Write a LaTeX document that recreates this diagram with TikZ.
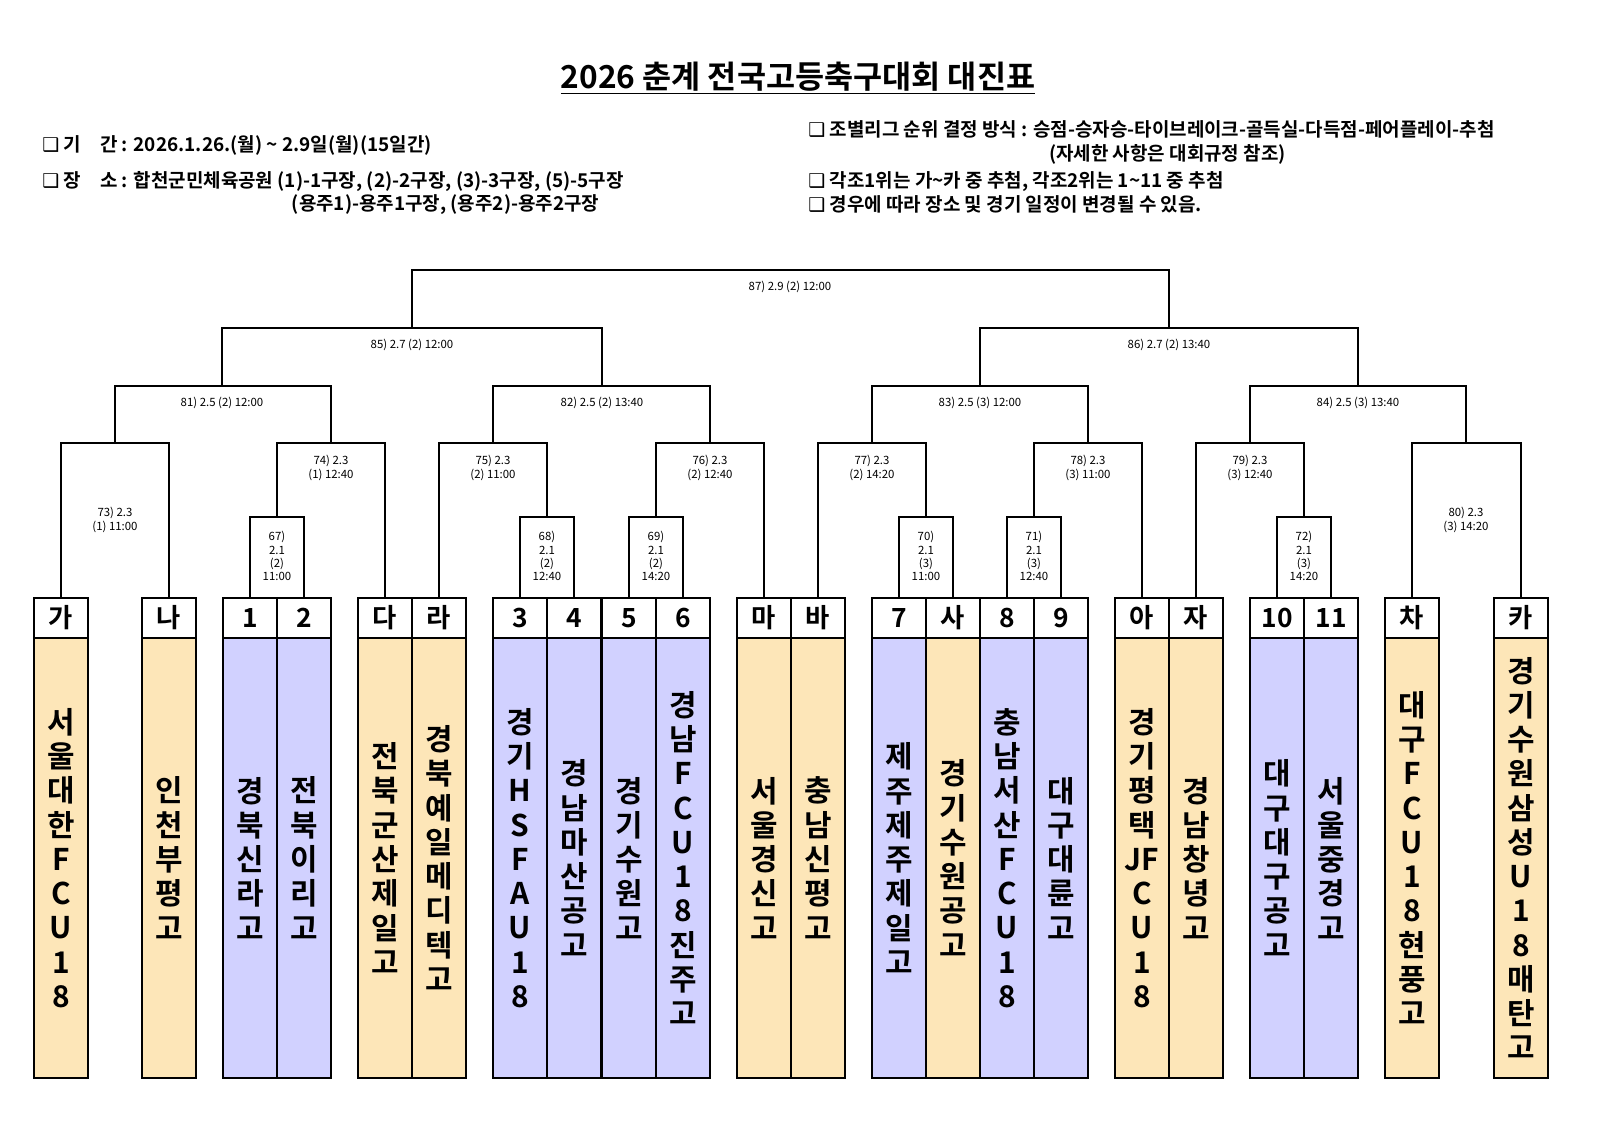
\documentclass[tikz,border=0pt]{standalone}
\usepackage{fontspec}
\setmainfont{Noto Sans CJK KR}[BoldFont=* Bold]
\newfontfamily\symb{DejaVu Sans}
\begin{document}
\begin{tikzpicture}[x=0.02cm,y=-0.02cm]
% Styles
\tikzstyle{cadre}=[line width=0.7pt]
\tikzstyle{tete}=[draw,line width=0.7pt,minimum width=1.08cm,minimum height=0.8cm,inner sep=0pt,font=\fontsize{15}{15}\selectfont\bfseries]
\tikzstyle{corps}=[draw,line width=0.7pt,minimum width=1.08cm,minimum height=8.8cm,inner sep=0pt]
\tikzstyle{nom}=[align=center,font=\fontsize{17}{19.5}\selectfont\bfseries]
\tikzstyle{info}=[font=\fontsize{10.8}{13.6}\selectfont\bfseries,anchor=west,align=left,inner sep=0pt]
\tikzstyle{match}=[font=\fontsize{6.5}{7.5}\selectfont,align=center,inner sep=1pt]
\colorlet{jaune}{yellow!30!orange!25!white}
\colorlet{violet}{blue!18!white}
% Dimensions
\def\Htete{618}
\def\Hcorps{858}
\useasboundingbox (0,0) rectangle (1614,1140);
% Titre
\node[font=\fontsize{18}{20}\selectfont\bfseries] (titre) at (798,78) {\underline{2026 춘계 전국고등축구대회 대진표}};
\node[info] (i1) at (42,145) {{\symb ❑} 기\quad 간 : 2026.1.26.(월) \textasciitilde\ 2.9일(월)(15일간)};
\node[info] (i2) at (42,193) {{\symb ❑} 장\quad 소 : 합천군민체육공원 (1)-1구장, (2)-2구장, (3)-3구장, (5)-5구장\\\hspace{142pt}(용주1)-용주1구장, (용주2)-용주2구장};
\node[info] (i3) at (808,142) {{\symb ❑} 조별리그 순위 결정 방식 : 승점-승자승-타이브레이크-골득실-다득점-페어플레이-추첨\\\hspace{137pt}(자세한 사항은 대회규정 참조)};
\node[info] (i4) at (808,192) {{\symb ❑} 각조1위는 가\textasciitilde 카 중 추첨, 각조2위는 1\textasciitilde 11 중 추첨\\{\symb ❑} 경우에 따라 장소 및 경기 일정이 변경될 수 있음.};
% Equipes
\foreach \id/\x/\lab/\col/\txt in {
 t1/61/가/jaune/{서\\울\\대\\한\\F\\C\\U\\1\\8},
 t2/169/나/jaune/{인\\천\\부\\평\\고},
 t3/250/1/violet/{경\\북\\신\\라\\고},
 t4/304/2/violet/{전\\북\\이\\리\\고},
 t5/385/다/jaune/{전\\북\\군\\산\\제\\일\\고},
 t6/439/라/jaune/{경\\북\\예\\일\\메\\디\\텍\\고},
 t7/520/3/violet/{경\\기\\H\\S\\F\\A\\U\\1\\8},
 t8/574/4/violet/{경\\남\\마\\산\\공\\고},
 t9/629/5/violet/{경\\기\\수\\원\\고},
 t10/683/6/violet/{경\\남\\F\\C\\U\\1\\8\\진\\주\\고},
 t11/764/마/jaune/{서\\울\\경\\신\\고},
 t12/818/바/jaune/{충\\남\\신\\평\\고},
 t13/899/7/violet/{제\\주\\제\\주\\제\\일\\고},
 t14/953/사/jaune/{경\\기\\수\\원\\공\\고},
 t15/1007/8/violet/{충\\남\\서\\산\\F\\C\\U\\1\\8},
 t16/1061/9/violet/{대\\구\\대\\륜\\고},
 t17/1142/아/jaune/{경\\기\\평\\택\\JF\\C\\U\\1\\8},
 t18/1196/자/jaune/{경\\남\\창\\녕\\고},
 t19/1277/10/violet/{대\\구\\대\\구\\공\\고},
 t20/1331/11/violet/{서\\울\\중\\경\\고},
 t21/1412/차/jaune/{대\\구\\F\\C\\U\\1\\8\\현\\풍\\고},
 t22/1521/카/jaune/{경\\기\\수\\원\\삼\\성\\U\\1\\8\\매\\탄\\고}}{
 \node[tete] (\id) at (\x,\Htete) {\lab};
 \node[corps,fill=\col] (c\id) at (\x,\Hcorps) {};
 \node[nom] (n\id) at (\x,\Hcorps) {\txt};
}
% Premier tour
\coordinate (m67) at (277,517);
\coordinate (m68) at (547,517);
\coordinate (m69) at (656,517);
\coordinate (m70) at (926,517);
\coordinate (m71) at (1034,517);
\coordinate (m72) at (1304,517);
\draw[cadre] (t3.north) |- (m67) -| (t4.north);
\draw[cadre] (t7.north) |- (m68) -| (t8.north);
\draw[cadre] (t9.north) |- (m69) -| (t10.north);
\draw[cadre] (t13.north) |- (m70) -| (t14.north);
\draw[cadre] (t15.north) |- (m71) -| (t16.north);
\draw[cadre] (t19.north) |- (m72) -| (t20.north);
\node[match] (l67) at (277,556) {67)\\2.1\\(2)\\11:00};
\node[match] (l68) at (547,556) {68)\\2.1\\(2)\\12:40};
\node[match] (l69) at (656,556) {69)\\2.1\\(2)\\14:20};
\node[match] (l70) at (926,556) {70)\\2.1\\(3)\\11:00};
\node[match] (l71) at (1034,556) {71)\\2.1\\(3)\\12:40};
\node[match] (l72) at (1304,556) {72)\\2.1\\(3)\\14:20};
% Deuxieme tour
\coordinate (m73) at (115,443);
\coordinate (m74) at (331,443);
\coordinate (m75) at (493,443);
\coordinate (m76) at (710,443);
\coordinate (m77) at (872,443);
\coordinate (m78) at (1088,443);
\coordinate (m79) at (1250,443);
\coordinate (m80) at (1466,443);
\draw[cadre] (t1.north) |- (m73) -| (t2.north);
\draw[cadre] (m67) |- (m74) -| (t5.north);
\draw[cadre] (t6.north) |- (m75) -| (m68);
\draw[cadre] (m69) |- (m76) -| (t11.north);
\draw[cadre] (t12.north) |- (m77) -| (m70);
\draw[cadre] (m71) |- (m78) -| (t17.north);
\draw[cadre] (t18.north) |- (m79) -| (m72);
\draw[cadre] (t21.north) |- (m80) -| (t22.north);
\node[match] (l73) at (115,520) {73) 2.3\\(1) 11:00};
\node[match] (l74) at (331,468) {74) 2.3\\(1) 12:40};
\node[match] (l75) at (493,468) {75) 2.3\\(2) 11:00};
\node[match] (l76) at (710,468) {76) 2.3\\(2) 12:40};
\node[match] (l77) at (872,468) {77) 2.3\\(2) 14:20};
\node[match] (l78) at (1088,468) {78) 2.3\\(3) 11:00};
\node[match] (l79) at (1250,468) {79) 2.3\\(3) 12:40};
\node[match] (l80) at (1466,520) {80) 2.3\\(3) 14:20};
% Quarts
\coordinate (m81) at (222,386);
\coordinate (m82) at (602,386);
\coordinate (m83) at (980,386);
\coordinate (m84) at (1358,386);
\draw[cadre] (m73) |- (m81) -| (m74);
\draw[cadre] (m75) |- (m82) -| (m76);
\draw[cadre] (m77) |- (m83) -| (m78);
\draw[cadre] (m79) |- (m84) -| (m80);
\node[match] (l81) at (222,403) {81)\ 2.5\ (2)\ 12:00};
\node[match] (l82) at (602,403) {82)\ 2.5\ (2)\ 13:40};
\node[match] (l83) at (980,403) {83)\ 2.5\ (3)\ 12:00};
\node[match] (l84) at (1358,403) {84)\ 2.5\ (3)\ 13:40};
% Demi-finales et finale
\coordinate (m85) at (412,328);
\coordinate (m86) at (1169,328);
\coordinate (m87) at (790,270);
\draw[cadre] (m81) |- (m85) -| (m82);
\draw[cadre] (m83) |- (m86) -| (m84);
\draw[cadre] (m85) |- (m87) -| (m86);
\node[match] (l85) at (412,345) {85)\ 2.7\ (2)\ 12:00};
\node[match] (l86) at (1169,345) {86)\ 2.7\ (2)\ 13:40};
\node[match] (l87) at (790,287) {87)\ 2.9\ (2)\ 12:00};
\end{tikzpicture}
\end{document}
